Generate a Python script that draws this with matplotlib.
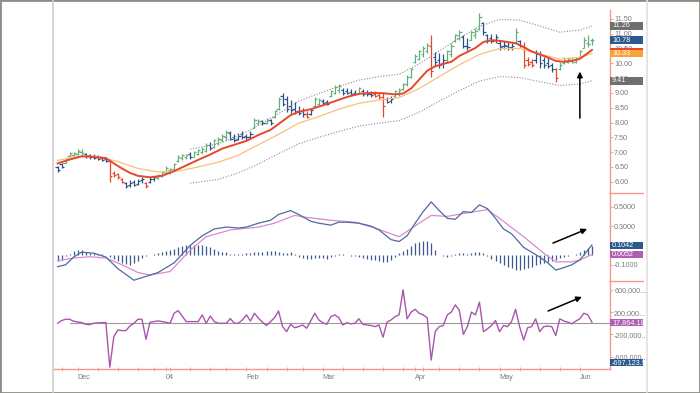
import matplotlib
matplotlib.use("Agg")
import matplotlib.pyplot as plt
import numpy as np
import pandas as pd
from matplotlib.lines import Line2D
from matplotlib.patches import Rectangle

plt.rcParams['font.family'] = ['Liberation Sans', 'DejaVu Sans']

# ---------------- data ----------------
holidays = ['2003-11-27', '2003-12-25', '2004-01-01', '2004-01-19',
            '2004-02-16', '2004-04-09', '2004-05-31']
dates = pd.bdate_range('2003-11-21', '2004-06-04', freq='C', holidays=holidays)

bar_high = [6.52,6.63,6.80,7.00,7.02,7.12,7.10,6.98,6.94,6.93,
            6.90,6.85,6.82,6.73,6.35,6.30,6.12,6.00,6.05,6.05,
            6.10,6.17,5.98,6.15,6.20,6.25,6.35,6.52,6.48,6.63,
            6.90,6.95,6.95,7.00,7.05,7.12,7.18,7.30,7.35,7.45,
            7.50,7.62,7.75,7.70,7.60,7.65,7.72,7.62,7.70,8.15,
            8.12,8.10,8.15,8.12,8.42,8.85,9.00,8.90,8.75,8.70,
            8.55,8.50,8.40,8.50,8.87,8.82,8.78,8.77,9.10,9.27,
            9.30,9.17,9.15,9.12,9.10,9.20,9.12,9.10,9.08,9.05,
            9.00,9.00,8.87,8.90,9.10,9.15,9.35,9.60,9.84,10.30,
            10.45,10.60,10.69,10.96,10.39,10.35,10.30,10.45,10.69,11.00,
            11.12,10.96,10.85,11.10,11.18,11.69,11.40,11.00,10.98,11.00,
            10.79,10.75,10.72,10.70,11.19,10.80,10.73,10.22,10.15,10.45,
            10.40,10.22,10.20,10.00,9.83,10.05,10.20,10.22,10.20,10.22,
            10.45,10.90,10.96,10.85]
bar_low = [6.33,6.45,6.62,6.84,6.86,6.90,6.90,6.80,6.78,6.76,
           6.73,6.70,6.67,5.99,6.15,6.10,5.96,5.78,5.83,5.84,
           5.88,5.96,5.78,5.95,6.02,6.08,6.17,6.25,6.25,6.40,
           6.68,6.72,6.78,6.78,6.83,6.90,6.95,7.00,7.07,7.15,
           7.24,7.35,7.40,7.40,7.35,7.40,7.45,7.40,7.45,7.80,
           7.92,7.90,7.95,7.92,8.15,8.42,8.55,8.35,8.32,8.30,
           8.25,8.20,8.14,8.25,8.53,8.55,8.60,8.58,8.87,8.95,
           9.00,8.93,8.95,8.93,8.92,8.95,8.90,8.88,8.87,8.85,
           8.80,8.20,8.65,8.65,8.87,8.90,9.10,9.25,9.50,10.00,
           10.10,10.20,10.35,9.55,9.90,9.85,9.83,10.05,10.22,10.73,
           10.80,10.50,10.45,10.79,10.85,11.12,10.96,10.70,10.69,10.70,
           10.45,10.48,10.45,10.45,10.69,10.55,9.83,9.90,9.89,10.00,
           9.83,9.85,9.83,9.72,9.38,9.77,9.98,10.00,10.00,10.02,
           10.17,10.50,10.56,10.62]
bar_open = [6.50,6.60,6.64,6.86,6.90,6.95,7.00,6.95,6.90,6.85,
            6.85,6.80,6.76,6.70,6.30,6.25,6.10,5.95,5.90,5.98,
            5.92,6.05,5.95,6.00,6.08,6.12,6.20,6.30,6.40,6.42,
            6.70,6.80,6.85,6.95,6.85,6.95,7.00,7.05,7.25,7.18,
            7.30,7.40,7.50,7.65,7.50,7.45,7.60,7.55,7.50,7.82,
            8.00,8.05,7.98,8.08,8.18,8.45,8.90,8.80,8.55,8.45,
            8.40,8.38,8.30,8.28,8.55,8.62,8.72,8.70,8.90,9.00,
            9.10,9.10,9.05,9.02,9.00,8.98,9.05,9.00,8.98,8.95,
            8.92,8.85,8.80,8.72,8.88,8.95,9.12,9.30,9.55,10.05,
            10.15,10.30,10.40,10.60,10.20,10.10,10.00,10.10,10.30,10.75,
            10.85,10.90,10.60,10.80,10.95,11.15,11.35,10.95,10.85,10.80,
            10.70,10.60,10.60,10.55,10.70,10.75,10.60,10.10,10.05,10.10,
            10.30,10.10,10.00,9.95,9.80,9.80,10.00,10.05,10.10,10.05,
            10.20,10.50,10.70,10.80]
bar_close = [6.40,6.50,6.78,6.97,6.98,7.05,6.98,6.86,6.82,6.80,
             6.76,6.74,6.70,6.20,6.22,6.15,6.00,5.85,5.95,5.88,
             6.02,6.10,5.85,6.10,6.15,6.22,6.32,6.48,6.42,6.60,
             6.85,6.90,6.92,6.85,7.00,7.08,7.12,7.25,7.15,7.40,
             7.45,7.55,7.68,7.45,7.42,7.55,7.52,7.50,7.62,8.10,
             8.05,7.98,8.10,8.00,8.38,8.78,8.62,8.45,8.42,8.35,
             8.32,8.28,8.20,8.42,8.80,8.75,8.65,8.62,9.05,9.20,
             9.22,9.00,9.00,8.98,8.96,9.15,8.98,8.95,8.92,8.90,
             8.85,8.55,8.70,8.80,9.05,9.10,9.30,9.55,9.80,10.25,
             10.40,10.50,10.62,9.75,10.05,9.95,10.10,10.40,10.60,10.95,
             11.05,10.60,10.55,11.05,11.10,11.55,11.05,10.80,10.75,10.90,
             10.55,10.62,10.50,10.60,11.05,10.60,9.95,9.98,9.95,10.35,
             10.00,9.95,9.90,9.80,9.50,9.95,10.10,10.15,10.05,10.15,
             10.40,10.80,10.65,10.78]
bar_state = ("bbgggggbbbbbb" "rrrr" "bbbbb" "r" "bb" "gggggggg" "b" "gggg" "b"
             "gggg" "bbbbbb" "gg" "bgbgg" "bbbbbb" "rbggbbggg" "bbbbgbbbrrrbb"
             "ggggggggg" "rbbbggggbbggg" "bbbbbbbb" "gbrrrbbbbbr" "ggggggggg")

# moving averages read at sample bars (bar index, value)
ema13_idx = [0, 3, 6, 9, 12, 14, 16, 18, 20, 23, 26, 29, 32, 35, 38, 41, 44, 47, 50, 53,
             56, 58, 60, 63, 66, 69, 72, 75, 78, 81, 84, 86, 88, 90, 92, 94, 96, 98, 100,
             102, 104, 106, 108, 110, 112, 114, 116, 118, 120, 122, 124, 126, 128, 130, 133]
ema13_val = [6.62, 6.75, 6.86, 6.84, 6.80, 6.62, 6.45, 6.30, 6.20, 6.15, 6.20, 6.36, 6.55, 6.74,
             6.92, 7.12, 7.25, 7.38, 7.58, 7.75, 8.05, 8.25, 8.36, 8.45, 8.58, 8.72, 8.86, 8.97,
             9.00, 8.99, 8.95, 8.98, 9.15, 9.45, 9.75, 9.90, 9.98, 10.05, 10.25, 10.38, 10.52,
             10.72, 10.78, 10.76, 10.72, 10.68, 10.55, 10.40, 10.30, 10.20, 10.08, 10.05,
             10.08, 10.15, 10.45]
ema26_idx = [0, 5, 10, 15, 20, 25, 30, 35, 40, 45, 50, 55, 60, 65, 70, 75, 80, 85, 90, 95,
             100, 105, 110, 115, 120, 125, 130, 133]
ema26_val = [6.72, 6.86, 6.86, 6.68, 6.45, 6.33, 6.36, 6.50, 6.66, 6.90, 7.25, 7.60, 7.98, 8.20,
             8.45, 8.65, 8.76, 8.84, 9.15, 9.55, 9.95, 10.30, 10.50, 10.50, 10.32, 10.14,
             10.20, 10.33]
env_idx = [33, 40, 45, 50, 55, 60, 65, 70, 75, 80, 85, 90, 95, 100, 105, 110, 115, 120, 125,
           130, 133]
env_upper = [7.10, 7.28, 7.55, 7.90, 8.30, 8.72, 8.98, 9.22, 9.43, 9.55, 9.63, 9.98, 10.42,
             10.85, 11.25, 11.48, 11.46, 11.26, 11.05, 11.12, 11.26]
env_lower = [5.95, 6.08, 6.30, 6.60, 6.95, 7.28, 7.50, 7.70, 7.88, 7.98, 8.06, 8.35, 8.72,
             9.08, 9.40, 9.55, 9.52, 9.38, 9.25, 9.30, 9.41]

# MACD lines (bar index, value)
macd_idx = [0, 2, 4, 6, 9, 12, 15, 19, 22, 25, 29, 31, 33, 36, 39, 42, 45, 47, 50, 53,
            55, 58, 60, 63, 65, 68, 70, 72, 75, 78, 80, 83, 85, 87, 89, 91, 93, 95, 97,
            99, 101, 103, 105, 107, 109, 111, 113, 116, 118, 120, 122, 124, 126, 128, 130, 133]
macd_val = [-0.12, -0.10, -0.02, 0.03, 0.02, -0.02, -0.14, -0.26, -0.22, -0.18, -0.08, 0.01,
            0.10, 0.20, 0.27, 0.29, 0.28, 0.29, 0.33, 0.36, 0.42, 0.46, 0.42, 0.35, 0.33,
            0.31, 0.34, 0.34, 0.33, 0.30, 0.26, 0.16, 0.14, 0.20, 0.33, 0.45, 0.55, 0.46,
            0.38, 0.37, 0.45, 0.44, 0.52, 0.48, 0.38, 0.27, 0.22, 0.08, 0.03, -0.02, -0.08,
            -0.155, -0.13, -0.10, -0.05, 0.1042]
signal_idx = [0, 4, 8, 12, 16, 20, 23, 28, 33, 37, 43, 50, 54, 59, 62, 68, 74, 79, 85,
              90, 93, 97, 101, 107, 110, 116, 121, 124, 128, 130, 133]
signal_val = [-0.06, -0.03, -0.017, -0.03, -0.10, -0.18, -0.206, -0.17, 0.05, 0.19, 0.26,
              0.29, 0.33, 0.41, 0.39, 0.36, 0.34, 0.28, 0.19, 0.33, 0.41, 0.40, 0.43, 0.47,
              0.38, 0.19, 0.02, -0.07, -0.07, -0.05, 0.0052]
macd_hist = [-0.06,-0.05,-0.01,0.01,0.04,0.05,0.05,0.03,0.02,0.02,
             0.01,0.01,0.0,-0.02,-0.04,-0.06,-0.08,-0.09,-0.10,-0.08,
             -0.06,-0.03,-0.01,0.005,0.01,0.02,0.03,0.04,0.05,0.06,
             0.08,0.09,0.10,0.10,0.10,0.10,0.10,0.09,0.08,0.06,
             0.04,0.03,0.03,0.01,0.01,0.01,0.01,0.02,0.02,0.03,
             0.03,0.03,0.04,0.04,0.04,0.03,0.02,0.02,0.03,0.01,
             -0.02,-0.03,-0.04,-0.04,-0.03,-0.03,-0.03,-0.04,-0.02,-0.01,
             0.01,0.01,0.005,-0.01,-0.01,-0.02,-0.03,-0.04,-0.05,-0.05,
             -0.06,-0.07,-0.07,-0.05,-0.02,0.02,0.04,0.06,0.09,0.12,
             0.14,0.15,0.15,0.12,0.05,0.0,-0.01,-0.02,-0.01,0.01,
             0.02,0.02,0.01,0.02,0.03,0.03,0.02,-0.01,-0.04,-0.06,
             -0.08,-0.10,-0.12,-0.13,-0.15,-0.15,-0.14,-0.13,-0.12,-0.10,
             -0.09,-0.08,-0.07,-0.06,-0.05,-0.03,-0.02,-0.01,0.0,0.01,
             0.03,0.05,0.07,0.09]

# force index (thousands)
force_k = [0,48,72,72,36,24,12,-18,-24,0,
           6,12,12,-789,-239,-120,-131,-131,-48,0,
           72,72,-287,18,30,42,30,18,0,179,
           227,131,30,30,30,30,150,0,131,30,
           0,0,0,84,0,0,60,150,40,180,
           90,20,-40,30,100,220,-60,-150,-20,-80,
           -60,-30,-90,40,180,60,10,-20,120,150,
           100,-30,10,-10,0,80,-20,-30,-40,-60,
           -30,-250,20,60,120,150,600,80,200,250,
           180,150,100,-660,-150,-60,-40,150,200,330,
           230,-200,-60,200,150,380,-150,-100,-40,50,
           -150,-40,-60,30,250,-60,-300,-80,-60,80,
           -150,-60,-50,-60,-220,80,40,20,-10,40,
           80,180,150,17.864]

price_ticks = [6.0, 6.5, 7.0, 7.5, 8.0, 8.5, 9.0, 9.5, 10.0, 10.5, 11.0, 11.5]
macd_ticks = [0.5, 0.3, -0.1]
macd_minor = [0.1]
force_ticks = [600000, 200000, -200000, -600000]
force_labels = ['600,000...', '200,000...', '-200,000...', '-600,000...']
month_labels = ['Dec', '04', 'Feb', 'Mar', 'Apr', 'May', 'Jun']

# ---------------- styling ----------------
W, H = 700, 393
RED_AX = '#f29a8a'
TXT = '#7a7a7a'
COL = {'g': '#63b07a', 'b': '#2e4f88', 'r': '#e4472d'}

fig = plt.figure(figsize=(W / 100, H / 100), dpi=100)
fig.patch.set_facecolor('white')

def rect(x0, y0, x1, y1):
    return [x0 / W, 1 - y1 / H, (x1 - x0) / W, (y1 - y0) / H]

X0, X1 = 53, 610
ax_p = fig.add_axes(rect(X0, 10, X1, 193.3))
ax_m = fig.add_axes(rect(X0, 193.3, X1, 281))
ax_f = fig.add_axes(rect(X0, 281, X1, 369))

n = len(dates)
xi = np.arange(n)
xlim = (-1.145, 137.5)

for ax in (ax_p, ax_m, ax_f):
    ax.set_xlim(*xlim)
    ax.set_facecolor('none')
    for s in ('left', 'top', 'bottom'):
        ax.spines[s].set_visible(False)
    ax.spines['right'].set_color(RED_AX)
    ax.spines['right'].set_linewidth(1.0)
    ax.yaxis.tick_right()
    ax.tick_params(axis='y', which='both', direction='out', length=2, width=0.6,
                   color=RED_AX, labelsize=5.2, labelcolor=TXT, pad=1)
    ax.tick_params(axis='x', which='both', bottom=False, labelbottom=False)

# ----- price panel -----
ax_p.set_ylim(5.61, 11.80)
cols = [COL[s] for s in bar_state]
ax_p.vlines(xi, bar_low, bar_high, colors=cols, lw=0.9)
ax_p.hlines(bar_open, xi - 0.55, xi, colors=cols, lw=0.9)
ax_p.hlines(bar_close, xi, xi + 0.55, colors=cols, lw=0.9)
ax_p.plot(ema26_idx, ema26_val, color='#f9c07c', lw=0.9, zorder=3)
ax_p.plot(ema13_idx, ema13_val, color='#e8472b', lw=1.4, zorder=4)
ax_p.plot(env_idx, env_upper, color='#8c8c8c', lw=0.8, ls=(0, (1, 1.5)))
ax_p.plot(env_idx, env_lower, color='#8c8c8c', lw=0.8, ls=(0, (1, 1.5)))
ax_p.set_yticks(price_ticks)
ax_p.set_yticklabels([f'{v:.2f}' for v in price_ticks])

# ----- MACD panel -----
ax_m.set_ylim(-0.268, 0.639)
ax_m.vlines(xi, 0, macd_hist, colors='#3b5a8e', lw=0.9)
ax_m.plot(signal_idx, signal_val, color='#d88ad2', lw=0.9)
ax_m.plot(macd_idx, macd_val, color='#4d6b9c', lw=0.9)
ax_m.set_yticks(macd_ticks)
ax_m.set_yticklabels([f'{v:.4f}' for v in macd_ticks])
ax_m.set_yticks(macd_minor, minor=True)

# ----- force index panel -----
ax_f.set_ylim(-820000, 758000)
ax_f.axhline(0, color='#9a9a9a', lw=0.8, xmin=0.03)
ax_f.plot(xi, np.array(force_k) * 1000, color='#a855ad', lw=1.0)
ax_f.set_yticks(force_ticks)
ax_f.set_yticklabels(force_labels)
ax_f.spines['bottom'].set_visible(True)
ax_f.spines['bottom'].set_color(RED_AX)
ax_f.spines['bottom'].set_linewidth(1.0)

month_pos = [i for i in range(n) if i == 0 or dates[i].month != dates[i - 1].month][1:]
week_pos = [i for i in range(n) if i > 0 and dates[i].weekday() < dates[i - 1].weekday()]
ax_f.set_xticks(month_pos)
ax_f.set_xticklabels(month_labels, ha='left')
ax_f.set_xticks(week_pos, minor=True)
ax_f.tick_params(axis='x', which='both', bottom=True, labelbottom=True, direction='inout',
                 length=3, width=0.6, color=RED_AX, labelsize=5.2, labelcolor=TXT, pad=2)

# ----- value boxes at the right -----
def value_box(ax, val, text, color, h=8):
    yd = ax.transData.transform((0, val))[1]
    fig.patches.append(Rectangle((610 / W, (yd - h / 2) / H), 33 / W, h / H,
                                 transform=fig.transFigure, facecolor=color,
                                 edgecolor='none', zorder=5))
    if text:
        fig.text(612 / W, yd / H, text, color='white', fontsize=5.2, va='center',
                 ha='left', zorder=6)

value_box(ax_p, 10.47, '', '#e8472b', h=3)
value_box(ax_p, env_upper[-1], '11.26', '#6f6f6f', h=7.5)
value_box(ax_p, ema26_val[-1], '10.33', '#f6a43a', h=7.5)
value_box(ax_p, bar_close[-1], '10.78', '#2c5a8e', h=7.5)
value_box(ax_p, env_lower[-1], '9.41', '#6f6f6f', h=7.5)
value_box(ax_m, macd_val[-1], '0.1042', '#2c5a8e', h=7)
value_box(ax_m, signal_val[-1], '0.0052', '#b45db4', h=7)
value_box(ax_f, force_k[-1] * 1000, '17,864.18', '#b45db4', h=7)
value_box(ax_f, -697123.9, '-697,123.9', '#2c5a8e', h=7)

# ----- annotation arrows -----
aprops = dict(arrowstyle='-|>', color='black', lw=1.1, mutation_scale=8, shrinkA=0, shrinkB=0)
ax_p.annotate('', xy=(130.0, 9.72), xytext=(130.0, 8.15), arrowprops=aprops)
ax_m.annotate('', xy=(131.8, 0.27), xytext=(123.3, 0.124), arrowprops=aprops)
ax_f.annotate('', xy=(130.5, 473000), xytext=(122.1, 220000), arrowprops=aprops)

# ----- frame lines -----
def fline(x0, y0, x1, y1, color, lw):
    fig.add_artist(Line2D([x0 / W, x1 / W], [1 - y0 / H, 1 - y1 / H], color=color, lw=lw,
                          transform=fig.transFigure))

fline(53, 0, 53, 392, '#cfcfcf', 1.2)
fline(647, 0, 647, 392, '#e0e0e0', 1.2)
fline(610, 193.3, 643, 193.3, RED_AX, 1.0)
fline(610, 281, 643, 281, RED_AX, 1.0)
fig.add_artist(Rectangle((0, 0), 1, 1, transform=fig.transFigure, fill=False,
                         edgecolor='#8d8d85', lw=2.0))

fig.savefig('out.png', dpi=100)
